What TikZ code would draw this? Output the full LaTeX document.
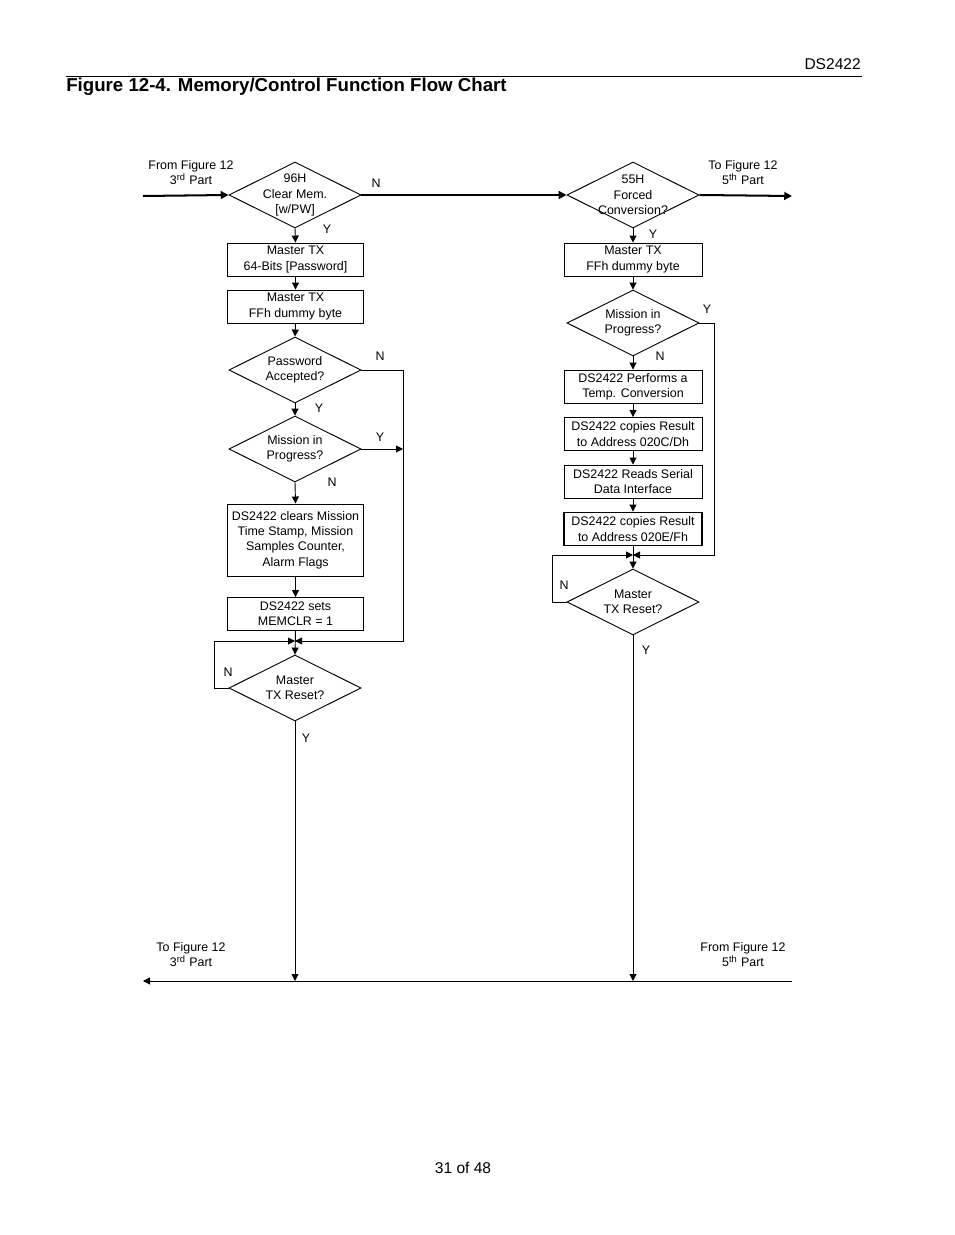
\documentclass[tikz,border=0pt]{standalone}
\usepackage{fontspec}
\setmainfont{Liberation Sans}
\usetikzlibrary{positioning}
\usetikzlibrary{arrows.meta}
\usetikzlibrary{shapes.geometric}

\tikzset{
  box/.style={draw,line width=0.6pt,minimum width=88pt,minimum height=21.2pt,align=center,inner sep=1pt,font=\fontsize{8}{9.8}\selectfont},
  dia/.style={draw,diamond,line width=0.6pt,minimum width=84.9pt,minimum height=42.4pt,inner sep=0pt},
  dtxt/.style={align=center,font=\fontsize{8}{9.8}\selectfont},
  yn/.style={font=\fontsize{8}{9.8}\selectfont,inner sep=0pt},
  arr/.style={line width=0.6pt,-{Triangle[length=4.5pt,width=4.5pt]}},
  main/.style={line width=1.3pt,-{Triangle[length=5pt,width=5pt]}},
}

\begin{document}
\begin{tikzpicture}[x=0.643pt,y=-0.643pt]
        \useasboundingbox (0,0) rectangle (954,1235);
        \node[anchor=east,inner sep=0pt,font=\fontsize{10}{12}\selectfont] (docid) at (861,64) {DS2422};
        \draw[line width=0.6pt] (66,76) -- (862,76);
        \node[anchor=west,inner sep=0pt,font=\fontsize{12}{14}\selectfont\bfseries] (title) at (66,87) {Figure 12-4. Memory/Control Function Flow Chart};
        \node[font=\fontsize{10}{12}\selectfont] (page) at (463,1168) {31 of 48};
        % left column
        \node[dia,label={[dtxt]center:{96H\\Clear Mem.\\{[w/PW]}}}] (clr) at (295,195) {};
        \node[box] (pw) at (295.5,259.5) {Master TX\\64-Bits [Password]};
        \node[box] (dumL) at (295.5,306.5) {Master TX\\FFh dummy byte};
        \node[dia,label={[dtxt]center:{Password\\Accepted?}}] (pwok) at (295,370) {};
        \node[dia,label={[dtxt]center:{Mission in\\Progress?}}] (misL) at (295,449) {};
        \node[box,minimum height=46.3pt] (clrs) at (295.5,540) {DS2422 clears Mission\\Time Stamp, Mission\\Samples Counter,\\Alarm Flags};
        \node[box] (sets) at (295.5,614) {DS2422 sets\\MEMCLR = 1};
        \node[dia,label={[dtxt]center:{Master\\TX Reset?}}] (rstL) at (295,688) {};
        % right column
        \node[dia,label={[dtxt]center:{55H\\Forced\\Conversion?}}] (conv) at (633,195) {};
        \node[box,minimum width=88.7pt] (dumR) at (633,259.5) {Master TX\\FFh dummy byte};
        \node[dia,label={[dtxt]center:{Mission in\\Progress?}}] (misR) at (633,323) {};
        \node[box,minimum width=88.7pt] (temp) at (633,386.5) {DS2422 Performs a\\Temp. Conversion};
        \node[box,minimum width=88.7pt] (cpyC) at (633,434) {DS2422 copies Result\\to Address 020C/Dh};
        \node[box,minimum width=88.7pt] (sdi) at (633,481.5) {DS2422 Reads Serial\\Data Interface};
        \node[box,minimum width=88.7pt,line width=1.2pt] (cpyE) at (633,529) {DS2422 copies Result\\to Address 020E/Fh};
        \node[dia,label={[dtxt]center:{Master\\TX Reset?}}] (rstR) at (633,602) {};
        % free ends and bends
        \coordinate (inL) at (143,196);
        \coordinate (outR) at (792,196);
        \coordinate (botL) at (143,981);
        \coordinate (botR) at (792,981);
        \coordinate (mrgL) at (295,641);
        \coordinate (railL) at (403,641);
        \coordinate (loopL) at (214,641);
        \coordinate (mrgR) at (633,555);
        \coordinate (railR) at (714,555);
        \coordinate (loopR) at (552,555);
        % connectors
        \draw[main] (inL) -- (clr.west);
        \draw[main] (clr.east) -- (conv.west);
        \draw[main] (conv.east) -- (outR);
        \draw[arr] (clr.south) -- (pw.north);
        \draw[arr] (pw.south) -- (dumL.north);
        \draw[arr] (dumL.south) -- (pwok.north);
        \draw[arr] (pwok.south) -- (misL.north);
        \draw[arr] (misL.south) -- (clrs.north);
        \draw[arr] (clrs.south) -- (sets.north);
        \draw[arr] (sets.south) -- (rstL.north);
        \draw[arr] (pwok.east) -| (railL) -- (mrgL);
        \draw[arr] (misL.east) -- (misL.east -| railL);
        \draw[arr] (rstL.west) -| (loopL) -- (mrgL);
        \draw[arr] (rstL.south) -- (rstL.south |- botL);
        \draw[arr] (conv.south) -- (dumR.north);
        \draw[arr] (dumR.south) -- (misR.north);
        \draw[arr] (misR.south) -- (temp.north);
        \draw[arr] (temp.south) -- (cpyC.north);
        \draw[arr] (cpyC.south) -- (sdi.north);
        \draw[arr] (sdi.south) -- (cpyE.north);
        \draw[arr] (cpyE.south) -- (rstR.north);
        \draw[arr] (misR.east) -| (railR) -- (mrgR);
        \draw[arr] (rstR.west) -| (loopR) -- (mrgR);
        \draw[arr] (rstR.south) -- (rstR.south |- botR);
        \draw[arr] (botR) -- (botL);
        % Y/N labels
        \node[yn] (n1) at (376,183) {N};
        \node[yn] (y1) at (327,229) {Y};
        \node[yn] (n2) at (380,356) {N};
        \node[yn] (y2) at (319,408) {Y};
        \node[yn] (y3) at (380,437) {Y};
        \node[yn] (n3) at (332,482) {N};
        \node[yn] (n4) at (228,672) {N};
        \node[yn] (y4) at (306,738) {Y};
        \node[yn] (y5) at (653,234) {Y};
        \node[yn] (y6) at (707,309) {Y};
        \node[yn] (n5) at (660,356) {N};
        \node[yn] (n6) at (564,585) {N};
        \node[yn] (y7) at (646,650) {Y};
        % off-page notes
        \node[dtxt] (fromA) at (191,172.5) {From Figure 12\\3\textsuperscript{rd} Part};
        \node[dtxt] (toA) at (743,172.5) {To Figure 12\\5\textsuperscript{th} Part};
        \node[dtxt] (toB) at (191,954.5) {To Figure 12\\3\textsuperscript{rd} Part};
        \node[dtxt] (fromB) at (743,954.5) {From Figure 12\\5\textsuperscript{th} Part};
    \end{tikzpicture}
\end{document}
